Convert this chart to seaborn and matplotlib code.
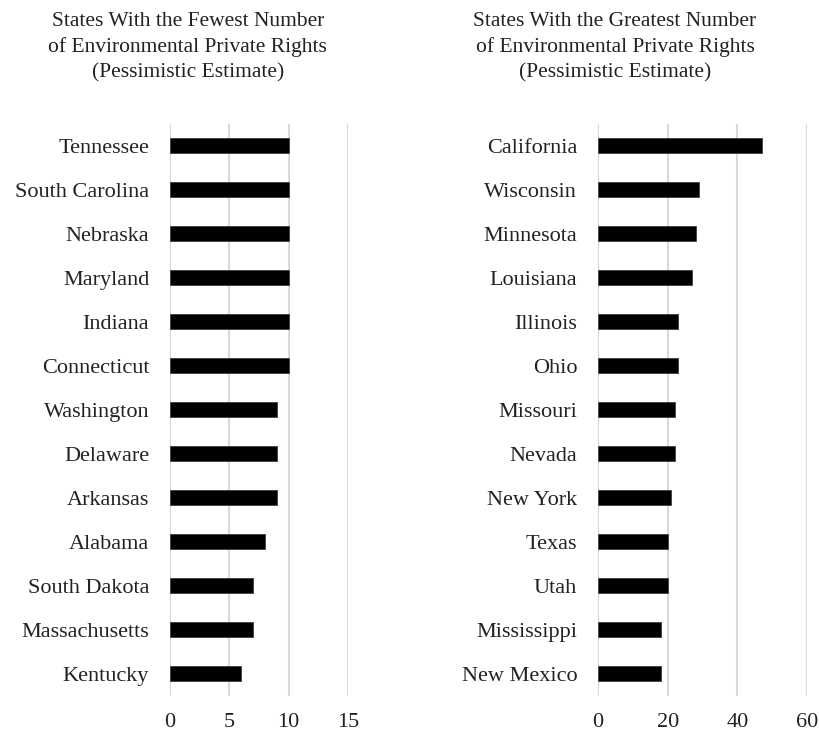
import pandas as pd
import seaborn as sns
import matplotlib.pyplot as plt

# ----- Data ----- #
fewest_states = ["Tennessee", "South Carolina", "Nebraska", "Maryland", "Indiana", "Connecticut",
                 "Washington", "Delaware", "Arkansas", "Alabama", "South Dakota", "Massachusetts",
                 "Kentucky"]
fewest_values = [10, 10, 10, 10, 10, 10, 9, 9, 9, 8, 7, 7, 6]

greatest_states = ["California", "Wisconsin", "Minnesota", "Louisiana", "Illinois", "Ohio",
                   "Missouri", "Nevada", "New York", "Texas", "Utah", "Mississippi", "New Mexico"]
greatest_values = [47, 29, 28, 27, 23, 23, 22, 22, 21, 20, 20, 18, 18]

left_ticks = [0, 5, 10, 15]
right_ticks = [0, 20, 40, 60]

titles = ["States With the Fewest Number\nof Environmental Private Rights\n(Pessimistic Estimate)",
          "States With the Greatest Number\nof Environmental Private Rights\n(Pessimistic Estimate)"]

sns.set_style("white")
plt.rcParams["font.family"] = ["Liberation Serif", "DejaVu Serif"]

fig = plt.figure(figsize=(8.2, 7.34), dpi=100)
ax_left = fig.add_axes([0.2073, 0.0518, 0.2171, 0.7793])
ax_right = fig.add_axes([0.7293, 0.0518, 0.2548, 0.7793])

panels = [
    (ax_left, fewest_states, fewest_values, left_ticks),
    (ax_right, greatest_states, greatest_values, right_ticks),
]

for ax, states, values, ticks in panels:
    df = pd.DataFrame({"State": states, "Count": values})
    sns.barplot(data=df, x="Count", y="State", orient="h", color="black",
                edgecolor="#404040", linewidth=0.6, width=0.34, ax=ax)
    ax.set_xlim(ticks[0], ticks[-1])
    ax.set_ylim(len(states) - 0.5, -0.5)
    ax.set_xticks(ticks)
    ax.set_xlabel("")
    ax.set_ylabel("")
    ax.grid(axis="x", color="#d9d9d9", linewidth=1.5)
    ax.set_axisbelow(True)
    for s in ax.spines.values():
        s.set_visible(False)
    ax.tick_params(axis="both", length=0, labelsize=16, labelcolor="#222222")
    ax.tick_params(axis="x", pad=12)
    ax.tick_params(axis="y", pad=15)

fig.text(0.229, 0.984, titles[0], ha="center", va="top", fontsize=15.5,
         color="#222222", linespacing=1.42)
fig.text(0.75, 0.984, titles[1], ha="center", va="top", fontsize=15.5,
         color="#222222", linespacing=1.42)

fig.savefig("out.png", dpi=100)
